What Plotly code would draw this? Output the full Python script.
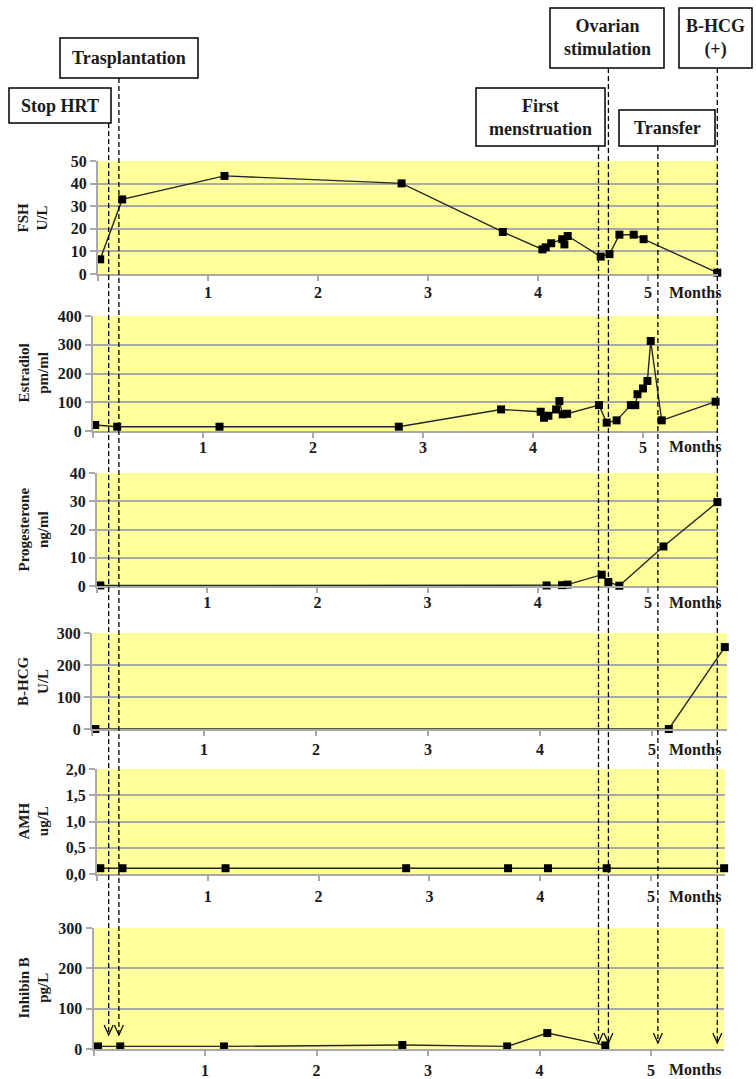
import plotly.graph_objects as go

# ---------------- data (months since stopping HRT) ----------------
fsh_x = [0.02, 0.22, 1.15, 2.76, 3.68, 4.04, 4.07, 4.12, 4.22, 4.24, 4.27, 4.57, 4.65, 4.74, 4.87, 4.96, 5.63]
fsh_y = [6.5, 33, 43.4, 40.1, 18.6, 10.9, 11.8, 13.6, 15.4, 13.1, 16.8, 7.7, 8.8, 17.4, 17.4, 15.4, 0.6]

e2_x = [0.02, 0.22, 1.15, 2.78, 3.71, 4.07, 4.10, 4.14, 4.21, 4.24, 4.27, 4.31, 4.60, 4.67, 4.76, 4.89, 4.93, 4.95, 5.00, 5.04, 5.07, 5.17, 5.66]
e2_y = [21, 15, 15, 15, 75, 67, 46, 53, 75, 104, 58, 60, 90, 29, 37, 90, 90, 128, 148, 174, 313, 37, 102]

prog_x = [0.03, 4.08, 4.22, 4.27, 4.58, 4.64, 4.74, 5.14, 5.63]
prog_y = [0.2, 0.2, 0.3, 0.5, 4.0, 1.4, 0.1, 14.0, 29.7]

bhcg_x = [0.03, 5.15, 5.65]
bhcg_y = [0, 0, 256]

amh_x = [0.03, 0.23, 1.16, 2.79, 3.71, 4.07, 4.60, 5.66]
amh_y = [0.11, 0.11, 0.11, 0.11, 0.11, 0.11, 0.11, 0.11]

inh_x = [0.04, 0.24, 1.17, 2.77, 3.71, 4.07, 4.59]
inh_y = [6.4, 6.4, 6.4, 10.0, 6.4, 39.5, 8.9]

x_tickvals = [0, 1, 2, 3, 4, 5]
x_ticktext = ["", "1", "2", "3", "4", "5"]

panel_titles = ["FSH<br>U/L", "Estradiol<br>pm/ml", "Progesterone<br>ng/ml",
                "B-HCG<br>U/L", "AMH<br>ug/L", "Inhibin B<br>pg/L"]
panel_ymax = [50, 400, 40, 300, 2.0, 300]
panel_dtick = [10, 100, 10, 100, 0.5, 100]

event_labels = ["Stop HRT", "Trasplantation", "First<br>menstruation",
                "Ovarian<br>stimulation", "Transfer", "B-HCG<br>(+)"]
event_months = [0.097, 0.19, 4.55, 4.64, 5.09, 5.63]

# ---------------- layout geometry (pixels) ----------------
W, H = 756, 1079
def px(x):
    return x / W
def py(y):
    return 1 - y / H

# per panel: month-0 pixel, pixels per month, left, right, top, bottom, label standoff, label row
geom = [
    dict(x0=98, ppm=110.0, l=98, r=718, t=161, b=274, so=-2, lab=292),
    dict(x0=93, ppm=110.0, l=93, r=718, t=316, b=431, so=-4, lab=447),
    dict(x0=97, ppm=110.2, l=97, r=718, t=473, b=586, so=-4, lab=602),
    dict(x0=92, ppm=112.0, l=92, r=727, t=633, b=729, so=0, lab=749),
    dict(x0=97, ppm=110.8, l=97, r=725, t=769, b=874, so=2, lab=896),
    dict(x0=93.5, ppm=111.5, l=93.5, r=724, t=928, b=1049, so=1, lab=1069),
]

series = [(fsh_x, fsh_y), (e2_x, e2_y), (prog_x, prog_y),
          (bhcg_x, bhcg_y), (amh_x, amh_y), (inh_x, inh_y)]

FONT = "Liberation Serif"
GRID = "#a9a9a9"
YELLOW = "#FFFF99"
TXT = "#1a1a1a"

fig = go.Figure()
layout = dict(
    width=W, height=H,
    margin=dict(l=0, r=0, t=0, b=0, pad=0, autoexpand=False),
    paper_bgcolor="white",
    plot_bgcolor=YELLOW,
    showlegend=False,
    separators=",.",
    font=dict(family=FONT, size=16, color=TXT, weight="bold"),
)
annotations = []
shapes = []

for i, ((xs, ys), g) in enumerate(zip(series, geom), start=1):
    sfx = "" if i == 1 else str(i)
    fig.add_trace(go.Scatter(
        x=xs, y=ys, xaxis="x" + sfx, yaxis="y" + sfx,
        mode="lines+markers",
        line=dict(color="#262626", width=1.4),
        marker=dict(symbol="square", size=8, color="black"),
        cliponaxis=False,
    ))
    xr = [(g["l"] - g["x0"]) / g["ppm"], (g["r"] - g["x0"]) / g["ppm"]]
    layout["xaxis" + sfx] = dict(
        domain=[px(g["l"]), px(g["r"])], range=xr, anchor="y" + sfx,
        tickvals=x_tickvals, ticktext=x_ticktext,
        ticks="outside", ticklen=5, tickcolor=GRID, tickwidth=1.5,
        ticklabelstandoff=g["so"], automargin=False,
        showline=True, linecolor=GRID, linewidth=2,
        showgrid=False, zeroline=False, fixedrange=True,
        tickfont=dict(family=FONT, size=16, color=TXT, weight="bold"),
    )
    layout["yaxis" + sfx] = dict(
        domain=[py(g["b"]), py(g["t"])], range=[0, panel_ymax[i - 1]],
        dtick=panel_dtick[i - 1], anchor="x" + sfx, automargin=False,
        tickformat=".1f" if panel_ymax[i - 1] < 5 else "d",
        ticks="outside", ticklen=6, tickcolor=GRID, tickwidth=1.5,
        showline=True, linecolor=GRID, linewidth=2,
        showgrid=True, gridcolor=GRID, gridwidth=1.5, zeroline=False,
        fixedrange=True,
        tickfont=dict(family=FONT, size=16, color=TXT, weight="bold"),
    )
    annotations.append(dict(
        text=panel_titles[i - 1], xref="paper", yref="paper",
        x=px(33), y=py((g["t"] + g["b"]) / 2), textangle=-90,
        showarrow=False, xanchor="center", yanchor="middle",
        font=dict(family=FONT, size=15, color=TXT, weight="bold"),
    ))
    annotations.append(dict(
        text="Months", xref="paper", yref="paper",
        x=px(667), y=py(g["lab"]), xanchor="left", yanchor="middle",
        showarrow=False,
        font=dict(family=FONT, size=16, color=TXT, weight="bold"),
    ))

# event boxes (pixel boxes) and dashed arrows
boxes = [
    (9, 111, 88, 123),
    (60, 198, 38, 78),
    (476, 605, 88, 146),
    (550, 664, 8, 68),
    (619, 715, 110, 146),
    (679, 752, 8, 68),
]
arrow_end = [1035, 1035, 1043, 1043, 1043, 1043]
g1 = geom[0]
for lab, m, (bl, br, bt, bb), ye in zip(event_labels, event_months, boxes, arrow_end):
    shapes.append(dict(type="rect", xref="paper", yref="paper",
                       x0=px(bl), x1=px(br), y0=py(bb), y1=py(bt),
                       line=dict(color="black", width=1.5), fillcolor="white", layer="above"))
    annotations.append(dict(text=lab, xref="paper", yref="paper",
                            x=px((bl + br) / 2), y=py((bt + bb) / 2),
                            xanchor="center", yanchor="middle", showarrow=False,
                            font=dict(family=FONT, size=18, color=TXT, weight="bold")))
    shapes.append(dict(type="line", xref="x", yref="paper", x0=m, x1=m,
                       y0=py(bb), y1=py(ye),
                       line=dict(color="black", width=1.3, dash="5px,3px"), layer="above"))
    xp = g1["x0"] + m * g1["ppm"]
    shapes.append(dict(type="path", xref="paper", yref="paper",
                       path=f"M {px(xp - 4.5)},{py(ye - 10)} L {px(xp)},{py(ye)} L {px(xp + 4.5)},{py(ye - 10)}",
                       line=dict(color="black", width=1.2), layer="above"))

layout["annotations"] = annotations
layout["shapes"] = shapes
fig.update_layout(**layout)

fig.write_html("out.html", config={"displayModeBar": False},
               post_script="document.body.style.margin='0';")
